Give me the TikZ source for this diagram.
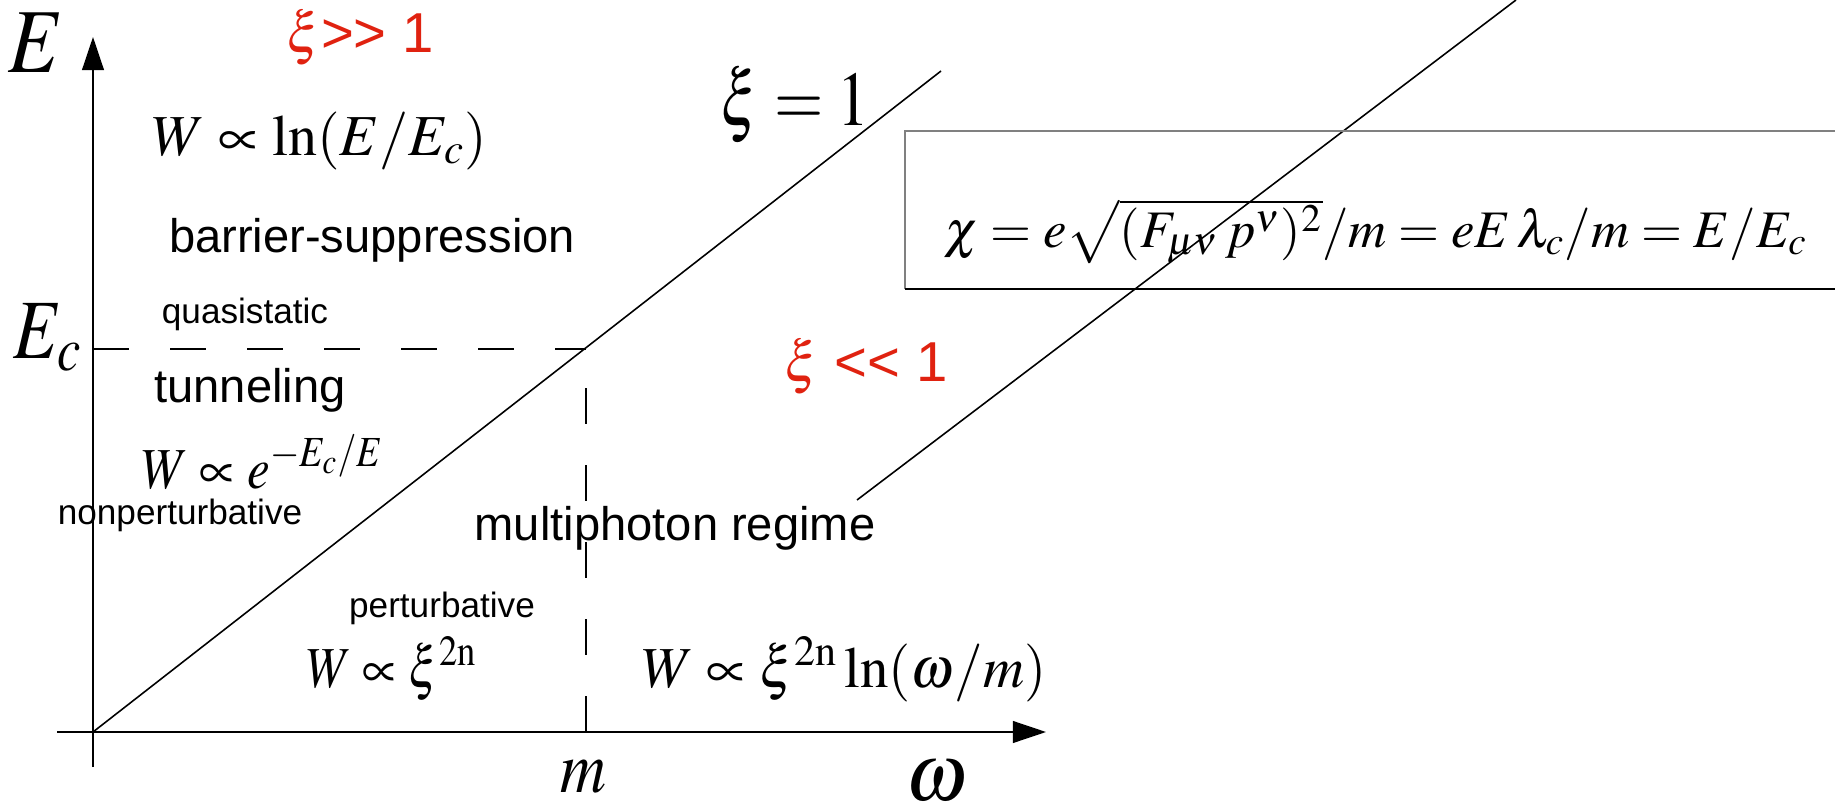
\documentclass[tikz,border=0pt]{standalone}
\usepackage{mathptmx}
\usepackage{graphicx}
\usepackage[no-math]{fontspec}
\setmainfont{Liberation Serif}
\setsansfont{Liberation Sans}
\usetikzlibrary{arrows.meta}
\definecolor{xired}{RGB}{224,34,16}
\definecolor{boxgray}{gray}{0.5}
\newcommand{\cond}[2][0.85]{\scalebox{#1}[1]{#2}}

\begin{document}
\begin{tikzpicture}[x=0.01cm, y=-0.01cm, line width=0.45pt,
    axis/.style={-{Triangle[length=9.4pt,width=6.2pt]}},
    guide/.style={dash pattern=on 10.2pt off 11.7pt},
    formula/.style={inner sep=0pt, anchor=base, font=\fontsize{16.5}{19}\selectfont},
    axislabel/.style={inner sep=0pt, anchor=base, font=\fontsize{21}{24}\selectfont},
    regime/.style={inner sep=0pt, anchor=base, font=\sffamily\fontsize{13.4}{16}\selectfont},
    tag/.style={inner sep=0pt, anchor=base, font=\sffamily\fontsize{10}{12}\selectfont},
    limit/.style={inner sep=0pt, anchor=base, text=xired, font=\sffamily\fontsize{16}{19}\selectfont}]
        \useasboundingbox (0,0) rectangle (1835,803);

        % 座標（原点・軸の端・境界線）
        \coordinate (O) at (93,732);
        \coordinate (Ytop) at (93,37);
        \coordinate (Ybot) at (93,767);
        \coordinate (Xleft) at (57,732);
        \coordinate (Xend) at (1046,732);
        \coordinate (Ec) at (93,349);
        \coordinate (P) at (586,349);
        \coordinate (Pm) at (586,732);
        \coordinate (L1) at (941,71);
        \coordinate (L2a) at (857,500);
        \coordinate (L2b) at (1516,0);

        % 軸
        \draw[axis] (Ybot) -- (Ytop);
        \draw[axis] (Xleft) -- (Xend);
        \node[axislabel, font=\fontsize{26}{30}\selectfont] (Elab) at (36,72) {\cond[0.88]{$E$}};
        \node[axislabel, font=\fontsize{24}{28}\selectfont] (Eclab) at (48,358) {\cond[0.84]{$E_c$}};
        \node[axislabel, font=\fontsize{21}{24}\selectfont] (mlab) at (583,792) {\cond[0.86]{$m$}};
        \node[axislabel, font=\fontsize{23}{26}\selectfont] (wlab) at (937,800) {$\omega$};

        % 境界線
        \draw[guide] (Ec) -- (P);
        \draw[guide] (Pm) -- (P);
        \draw (O) -- (L1);
        \draw (L2a) -- (L2b);

        % 枠と式
        \draw[boxgray] (1835,131) -- (905,131) -- (905,289);
        \draw (905,289) -- (1835,289);
        \node[formula, font=\fontsize{15}{18}\selectfont] (chi) at (1376,247)
            {$\chi=e\sqrt{(F_{\mu\nu}\,p^{\nu})^2}/m=eE\,\lambda_c/m=E/E_c$};

        % 領域のラベル
        \node[limit] (big) at (360,53) {$\xi${>}{>} 1};
        \node[limit] (small) at (866,381) {$\xi$ {<}{<} 1};
        \node[inner sep=0pt, anchor=base, font=\fontsize{22}{26}\selectfont] (one) at (795,125)
            {\cond[0.82]{$\xi=1$}};
        \node[formula] (Wln) at (320,155) {\cond[1.0]{$W\propto\ln(E/E_c)$}};
        \node[regime] (barrier) at (372,252) {barrier-suppression};
        \node[tag] (quasi) at (245,323) {quasistatic};
        \node[regime] (tunnel) at (250,402) {tunneling};
        \node[formula] (Wexp) at (263,488) {\cond[0.88]{$W\propto e^{-E_c/E}$}};
        \node[tag] (nonpert) at (180,524) {nonperturbative};
        \node[regime] (multi) at (675,540) {multiphoton regime};
        \node[tag] (pert) at (442,617) {perturbative};
        \node[formula] (Wxi) at (392,687) {\cond[0.85]{$W\propto\xi^{\mathrm{2n}}$}};
        \node[formula] (Wxiln) at (844,687) {\cond[0.98]{$W\propto\xi^{\mathrm{2n}}\ln(\omega/m)$}};
    \end{tikzpicture}
\end{document}
